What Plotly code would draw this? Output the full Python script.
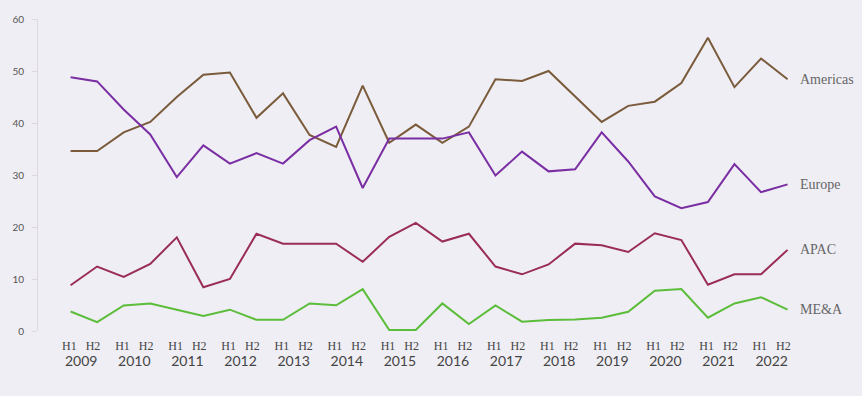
import plotly.graph_objects as go

years = [str(y) for y in range(2009, 2023)]
halves = ["H1", "H2"]

americas = [34.6, 34.6, 38.2, 40.2, 45.0, 49.3, 49.7, 41.0, 45.7, 37.7, 35.4, 47.2, 36.2, 39.7,
            36.2, 39.3, 48.4, 48.1, 50.0, 45.1, 40.2, 43.3, 44.1, 47.7, 56.4, 46.9, 52.4, 48.4]
europe = [48.8, 48.0, 42.6, 37.8, 29.6, 35.7, 32.2, 34.2, 32.2, 36.7, 39.3, 27.5, 37.0, 37.0,
          37.0, 38.2, 29.9, 34.5, 30.7, 31.1, 38.2, 32.6, 25.9, 23.6, 24.8, 32.1, 26.7, 28.2]
apac = [8.8, 12.4, 10.4, 12.9, 18.0, 8.4, 10.0, 18.7, 16.8, 16.8, 16.8, 13.3, 18.1, 20.8,
        17.2, 18.7, 12.4, 10.9, 12.8, 16.8, 16.5, 15.2, 18.8, 17.5, 8.9, 10.9, 10.9, 15.6]
mea = [3.75, 1.7, 4.9, 5.3, 4.1, 2.9, 4.1, 2.15, 2.15, 5.3, 4.95, 8.06, 0.2, 0.2,
       5.3, 1.33, 4.9, 1.8, 2.1, 2.2, 2.55, 3.7, 7.75, 8.06, 2.55, 5.3, 6.5, 4.1]

series = [
    ("Americas", americas, "#7a5b3b"),
    ("Europe", europe, "#7a2ea3"),
    ("APAC", apac, "#9a2d57"),
    ("ME&A", mea, "#5bbd3a"),
]

y_ticks = [0, 10, 20, 30, 40, 50, 60]

BG = "#efeef4"
n = len(years) * len(halves)
xs = list(range(n))

fig = go.Figure()
for name, vals, color in series:
    fig.add_trace(go.Scatter(x=xs, y=vals, mode="lines", name=name,
                             line=dict(color=color, width=2), hoverinfo="skip"))
    fig.add_annotation(x=xs[-1], y=vals[-1], xref="x", yref="y", text=name,
                       showarrow=False, xanchor="left", yanchor="middle", xshift=10,
                       font=dict(family="Liberation Serif", size=14, color="#666"))

tickvals = [2 * i + 0.4 for i in range(len(years))]
ticktext = [
    "<span style='font-family:Liberation Serif;font-size:12px'>"
    + "&nbsp;&nbsp;&nbsp;".join(halves)
    + "</span><br><span style='font-size:14px'>" + y + "</span>"
    for y in years
]

fig.update_layout(
    width=862, height=396,
    margin=dict(l=35, r=20, t=16, b=65),
    paper_bgcolor=BG, plot_bgcolor=BG,
    showlegend=False,
    font=dict(family="Lato", color="#444"),
    xaxis=dict(range=[-1.227, 29.05], tickvals=tickvals, ticktext=ticktext,
               showgrid=False, zeroline=False, showline=False, ticks="",
               ticklabelstandoff=6,
               tickfont=dict(size=12, family="Lato", color="#444")),
    yaxis=dict(range=[0, 60], tickvals=y_ticks, showgrid=False, zeroline=False,
               showline=True, linecolor="#e0d8e0", linewidth=1,
               ticks="outside", ticklen=5, tickcolor="#e0d8e0",
               ticklabelstandoff=6,
               tickfont=dict(size=10, family="Lato", color="#555")),
)

fig.write_html(
    "out.html",
    config={"displayModeBar": False},
    post_script="document.body.style.margin='0';document.body.style.background='" + BG + "';",
)
